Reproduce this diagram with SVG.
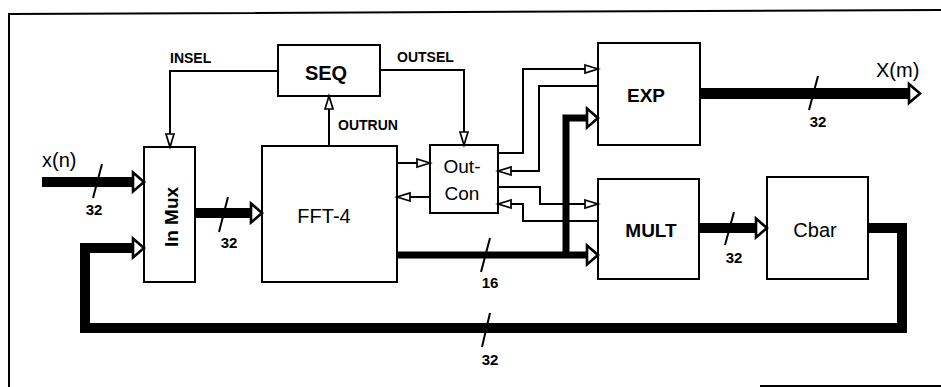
<svg xmlns="http://www.w3.org/2000/svg" width="941" height="387" viewBox="0 0 941 387">
<defs>
<style>
.box{fill:#fff;stroke:#000;stroke-width:2}
.sig{fill:none;stroke:#000;stroke-width:2;stroke-linejoin:miter}
.bus{fill:none;stroke:#000;stroke-linejoin:miter;stroke-linecap:butt}
.tick{stroke:#000;stroke-width:2}
.frame{stroke:#000;stroke-width:2;fill:none}
text{font-family:"Liberation Sans",Arial,Helvetica,sans-serif;fill:#000}
.nb{font-size:20px;font-weight:bold;text-anchor:middle}
.nr{font-size:20px;text-anchor:middle}
.sl{font-size:14px;font-weight:bold}
.wl{font-size:15px;font-weight:bold;text-anchor:middle}
.io{font-size:20px}
</style>
<marker id="ah" viewBox="0 0 15 10" refX="14" refY="5" markerWidth="15" markerHeight="10" markerUnits="userSpaceOnUse" orient="auto" overflow="visible">
<path d="M1,1 L14,5 L1,9 Z" fill="#fff" stroke="#000" stroke-width="1.7"/>
</marker>
<marker id="bh" viewBox="0 0 14 22" refX="1" refY="11" markerWidth="14" markerHeight="22" markerUnits="userSpaceOnUse" orient="auto" overflow="visible">
<path d="M1,1.5 L12,11 L1,20.5 Z" fill="#fff" stroke="#000" stroke-width="2.6"/>
</marker>
</defs>
<rect width="941" height="387" fill="#fff"/>
<g id="frame">
<path class="frame" d="M9,387 V14 L941,10"/>
<path class="frame" d="M760,386 H941" stroke-width="1.5"/>
</g>
<g id="seq"><rect class="box" x="278" y="45" width="102" height="51"/><text class="nb" x="326" y="80">SEQ</text></g>
<g id="inmux"><rect class="box" x="144" y="147" width="51" height="135"/><text class="nb" transform="translate(178,217) rotate(-90)" x="0" y="0" style="font-size:19px">In Mux</text></g>
<g id="fft4"><rect class="box" x="262" y="146" width="135" height="136"/><text class="nr" x="324" y="223">FFT-4</text></g>
<g id="outcon"><rect class="box" x="430" y="145" width="68" height="68"/><text class="nr" x="462" y="173" style="font-size:19px">Out-</text><text class="nr" x="462" y="200" style="font-size:19px">Con</text></g>
<g id="exp"><rect class="box" x="598" y="43" width="102" height="102"/><text class="nb" x="646" y="102" style="font-size:19px">EXP</text></g>
<g id="mult"><rect class="box" x="598" y="179" width="101" height="100"/><text class="nb" x="651" y="237" style="font-size:19px">MULT</text></g>
<g id="cbar"><rect class="box" x="767" y="177" width="101" height="102"/><text class="nr" x="815" y="237">Cbar</text></g>
<g id="connectors">
<!-- thick buses -->
<path class="bus" stroke-width="10" d="M42,182 H133" marker-end="url(#bh)"/>
<path class="bus" stroke-width="10" d="M195,213 H251" marker-end="url(#bh)"/>
<path class="bus" stroke-width="10" d="M868,228 H902 V328 H85 V248 H133" marker-end="url(#bh)"/>
<path class="bus" stroke-width="7" d="M397,255 H587" marker-end="url(#bh)"/>
<path class="bus" stroke-width="7" d="M566,255 V118 H587" marker-end="url(#bh)"/>
<path class="bus" stroke-width="10" d="M699,228 H756" marker-end="url(#bh)"/>
<path class="bus" stroke-width="11" d="M700,93.5 H909" marker-end="url(#bh)"/>
<!-- control signals -->
<path class="sig" d="M278,71 H170 V147" marker-end="url(#ah)"/>
<path class="sig" d="M380,70 H464 V145" marker-end="url(#ah)"/>
<path class="sig" d="M329,146 V96" marker-end="url(#ah)"/>
<path class="sig" d="M397,163 H430" marker-end="url(#ah)"/>
<path class="sig" d="M430,197 H397" marker-end="url(#ah)"/>
<path class="sig" d="M498,153 H523 V69 H598" marker-end="url(#ah)"/>
<path class="sig" d="M598,86 H539 V171 H498" marker-end="url(#ah)"/>
<path class="sig" d="M498,187 H540 V204 H598" marker-end="url(#ah)"/>
<path class="sig" d="M598,221 H523 V204 H498" marker-end="url(#ah)"/>
<!-- width ticks -->
<line class="tick" x1="102" y1="164" x2="93" y2="198"/>
<line class="tick" x1="228" y1="197" x2="219" y2="232"/>
<line class="tick" x1="818" y1="76" x2="809" y2="110"/>
<line class="tick" x1="734" y1="212" x2="725" y2="245"/>
<line class="tick" x1="490" y1="313" x2="482" y2="347"/>
<line class="tick" x1="490" y1="238" x2="481" y2="272"/>
<!-- labels -->
<text class="sl" x="170" y="63">INSEL</text>
<text class="sl" x="397" y="62">OUTSEL</text>
<text class="sl" x="338" y="130">OUTRUN</text>
<text class="io" x="42" y="167">x(n)</text>
<text class="io" x="876" y="77">X(m)</text>
<text class="wl" x="94" y="215">32</text>
<text class="wl" x="229" y="248">32</text>
<text class="wl" x="818" y="127">32</text>
<text class="wl" x="734" y="263">32</text>
<text class="wl" x="490" y="365">32</text>
<text class="wl" x="490" y="288">16</text>
</g>
</svg>
